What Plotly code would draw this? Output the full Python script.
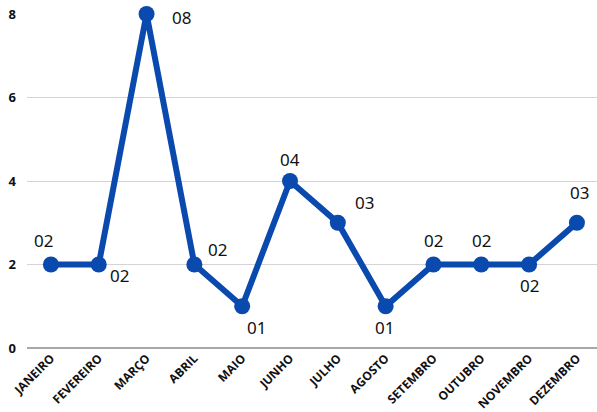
import plotly.graph_objects as go

# Monthly counts
months = ["JANEIRO", "FEVEREIRO", "MARÇO", "ABRIL", "MAIO", "JUNHO",
          "JULHO", "AGOSTO", "SETEMBRO", "OUTUBRO", "NOVEMBRO", "DEZEMBRO"]
counts = [2, 2, 8, 2, 1, 4, 3, 1, 2, 2, 2, 3]
labels = [f"{v:02d}" for v in counts]

# label placement per point (x shift, y shift in px)
label_shifts = [(-7, 24), (21, -11), (35, -3), (23, 15), (14, -21), (0, 22),
                (27, 20), (-1, -21), (0, 24), (0, 24), (0, -21), (3, 30)]

BLUE = "#0a49ad"

fig = go.Figure()
fig.add_trace(go.Scatter(
    x=months, y=counts, mode="lines+markers",
    line=dict(color=BLUE, width=6),
    marker=dict(color=BLUE, size=16),
    cliponaxis=False,
    hoverinfo="skip",
))

for m, v, t, (dx, dy) in zip(months, counts, labels, label_shifts):
    fig.add_annotation(x=m, y=v, text=t, showarrow=False,
                       xshift=dx, yshift=dy,
                       font=dict(family="Noto Sans", size=17, color="#111111"))

fig.update_layout(
    width=597, height=412,
    margin=dict(l=27, r=0, t=14, b=64),
    paper_bgcolor="white", plot_bgcolor="white",
    showlegend=False,
    xaxis=dict(
        range=[-0.5, 11.42], tickangle=-45, showgrid=False,
        ticks="", tickfont=dict(family="Open Sans", size=12, color="#111111", weight="bold"),
        showline=False, zeroline=False,
    ),
    yaxis=dict(
        range=[0, 8], dtick=2, showgrid=True, gridcolor="#d4d4d4", gridwidth=1,
        zeroline=True, zerolinecolor="#a8a8a8", zerolinewidth=1.5,
        ticks="", ticklabelstandoff=10,
        tickfont=dict(family="Open Sans", size=13, color="#111111", weight="bold"),
    ),
)

fig.write_html("out.html")
